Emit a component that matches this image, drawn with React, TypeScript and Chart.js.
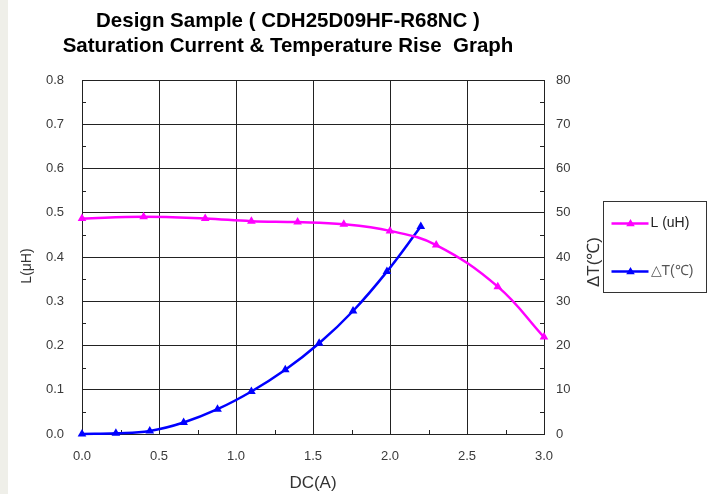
import React, { useEffect, useRef } from 'react';
import { Chart, registerables } from 'chart.js';

Chart.register(...registerables);

const titleLines = ['Design Sample ( CDH25D09HF-R68NC )', 'Saturation Current & Temperature Rise  Graph'];

// Inductance series
const lCurrent = [0, 0.4, 0.8, 1.1, 1.4, 1.7, 2.0, 2.3, 2.7, 3.0];
const lValues = [0.487, 0.491, 0.487, 0.481, 0.479, 0.474, 0.459, 0.427, 0.333, 0.219];

// Temperature rise series
const tCurrent = [0, 0.22, 0.44, 0.66, 0.88, 1.1, 1.32, 1.54, 1.76, 1.98, 2.2];
const tValues = [0, 0.16, 0.68, 2.6, 5.6, 9.6, 14.5, 20.5, 27.8, 36.7, 46.9];

// Minor tick positions
const xMinorTicks = [0.25, 0.75, 1.25, 1.75, 2.25, 2.75];
const lMinorTicks = [0.05, 0.15, 0.25, 0.35, 0.45, 0.55, 0.65, 0.75];

const seriesNames = ['L (uH)', '\u25B3T(\u2103)'];
const xTitle = 'DC(A)';
const yTitle = 'L(\u03BCH)';
const y1Title = '\u0394T(\u2103)';

const PINK = '#ff00ff';
const BLUE = '#0000ff';
const FONT = "'Liberation Sans', Arial, sans-serif";

function triangle(ctx: CanvasRenderingContext2D, x: number, y: number, r: number) {
  ctx.beginPath();
  ctx.moveTo(x, y - r);
  ctx.lineTo(x + r * 0.95, y + r * 0.6);
  ctx.lineTo(x - r * 0.95, y + r * 0.6);
  ctx.closePath();
  ctx.fill();
}

const minorTicksPlugin = {
  id: 'minorTicks',
  beforeDatasetsDraw(chart: any) {
    const { ctx, chartArea: a, scales } = chart;
    ctx.save();
    ctx.strokeStyle = '#222';
    ctx.lineWidth = 1;
    ctx.beginPath();
    lMinorTicks.forEach((v) => {
      const y = Math.round(scales.y.getPixelForValue(v)) + 0.5;
      ctx.moveTo(a.left, y);
      ctx.lineTo(a.left + 4, y);
      ctx.moveTo(a.right, y);
      ctx.lineTo(a.right - 4, y);
    });
    xMinorTicks.forEach((v) => {
      const x = Math.round(scales.x.getPixelForValue(v)) + 0.5;
      ctx.moveTo(x, a.bottom);
      ctx.lineTo(x, a.bottom - 4);
    });
    ctx.stroke();
    ctx.restore();
  },
};

const extrasPlugin = {
  id: 'extras',
  afterDraw(chart: any) {
    const { ctx, chartArea: a } = chart;
    const midY = (a.top + a.bottom) / 2;
    // axis titles (both read bottom-to-top)
    ctx.save();
    ctx.translate(a.left - 55, midY + 9);
    ctx.rotate(-Math.PI / 2);
    ctx.fillStyle = '#333';
    ctx.font = `14px ${FONT}`;
    ctx.textAlign = 'center';
    ctx.textBaseline = 'middle';
    ctx.fillText(yTitle, 0, 0);
    ctx.restore();

    ctx.save();
    ctx.translate(a.right + 50, midY + 5);
    ctx.rotate(-Math.PI / 2);
    ctx.fillStyle = '#333';
    ctx.font = `17px ${FONT}`;
    ctx.textAlign = 'center';
    ctx.textBaseline = 'middle';
    ctx.fillText(y1Title, 0, 0);
    ctx.restore();

    // legend box
    ctx.save();
    const bx = 603.5, by = 201.5, bw = 103, bh = 91;
    ctx.strokeStyle = '#333';
    ctx.lineWidth = 1;
    ctx.strokeRect(bx, by, bw, bh);
    chart.data.datasets.forEach((ds: any, i: number) => {
      const y = by + 22 + i * 48;
      ctx.strokeStyle = ds.borderColor;
      ctx.fillStyle = ds.borderColor;
      ctx.lineWidth = 2.5;
      ctx.beginPath();
      ctx.moveTo(bx + 8, y);
      ctx.lineTo(bx + 45, y);
      ctx.stroke();
      triangle(ctx, bx + 27, y, 4.5);
      ctx.fillStyle = i === 0 ? '#222' : '#555';
      ctx.font = `14px ${FONT}`;
      ctx.textAlign = 'left';
      ctx.textBaseline = 'middle';
      ctx.fillText(ds.label, bx + 47, y);
    });
    ctx.restore();
  },
};

export default function App() {
  const ref = useRef<HTMLCanvasElement>(null);

  useEffect(() => {
    const chart = new Chart(ref.current as HTMLCanvasElement, {
      type: 'line',
      data: {
        datasets: [
          {
            label: seriesNames[0],
            data: lCurrent.map((x, i) => ({ x, y: lValues[i] })),
            borderColor: PINK,
            backgroundColor: PINK,
            borderWidth: 2.5,
            pointStyle: 'triangle',
            pointRadius: 5,
            pointBorderWidth: 0,
            tension: 0.4,
            yAxisID: 'y',
            clip: false,
          },
          {
            label: seriesNames[1],
            data: tCurrent.map((x, i) => ({ x, y: tValues[i] })),
            borderColor: BLUE,
            backgroundColor: BLUE,
            borderWidth: 2.5,
            pointStyle: 'triangle',
            pointRadius: 5,
            pointBorderWidth: 0,
            tension: 0.4,
            yAxisID: 'y1',
            clip: false,
          },
        ],
      } as any,
      options: {
        responsive: false,
        animation: false,
        events: [],
        layout: { padding: { left: 0, right: 137, top: 0, bottom: 0 } },
        plugins: {
          legend: { display: false },
          tooltip: { enabled: false },
          title: {
            display: true,
            text: titleLines,
            color: '#000',
            font: { family: FONT, size: 20.5, weight: 'bold', lineHeight: '25px' } as any,
            padding: { top: 9, bottom: 21 },
          },
        },
        scales: {
          x: {
            type: 'linear',
            min: 0,
            max: 3,
            afterFit: (s: any) => { s.height = 60; },
            grid: { color: '#222', lineWidth: 1, drawTicks: false },
            border: { color: '#222' },
            ticks: {
              stepSize: 0.5,
              padding: 15,
              color: '#3a3a3a',
              font: { family: FONT, size: 13 },
              callback: (v: any) => Number(v).toFixed(1),
            },
            title: {
              display: true,
              text: xTitle,
              color: '#333',
              font: { family: FONT, size: 17 },
              padding: { top: 0, bottom: 0 },
            },
          },
          y: {
            type: 'linear',
            position: 'left',
            min: 0,
            max: 0.8,
            afterFit: (s: any) => { s.width = 82; },
            grid: { color: '#222', lineWidth: 1, drawTicks: false },
            border: { color: '#222' },
            ticks: {
              stepSize: 0.1,
              padding: 18,
              color: '#3a3a3a',
              font: { family: FONT, size: 13 },
              callback: (v: any) => Number(v).toFixed(1),
            },
          },
          y1: {
            type: 'linear',
            position: 'right',
            min: 0,
            max: 80,
            afterFit: (s: any) => { s.width = 32; },
            grid: { drawOnChartArea: false, drawTicks: false },
            border: { color: '#222' },
            ticks: {
              stepSize: 10,
              padding: 12,
              color: '#3a3a3a',
              font: { family: FONT, size: 13 },
              callback: (v: any) => String(Math.round(Number(v))),
            },
          },
        },
      } as any,
      plugins: [minorTicksPlugin, extrasPlugin],
    });
    return () => chart.destroy();
  }, []);

  return (
    <div style={{ position: 'fixed', left: 0, top: 0, width: 713, height: 494, background: '#fff' }}>
      <div style={{ position: 'absolute', left: 0, top: 0, width: 8, height: 494, background: '#efefe9' }} />
      <canvas ref={ref} width={713} height={494} style={{ position: 'absolute', left: 0, top: 0 }} />
    </div>
  );
}
